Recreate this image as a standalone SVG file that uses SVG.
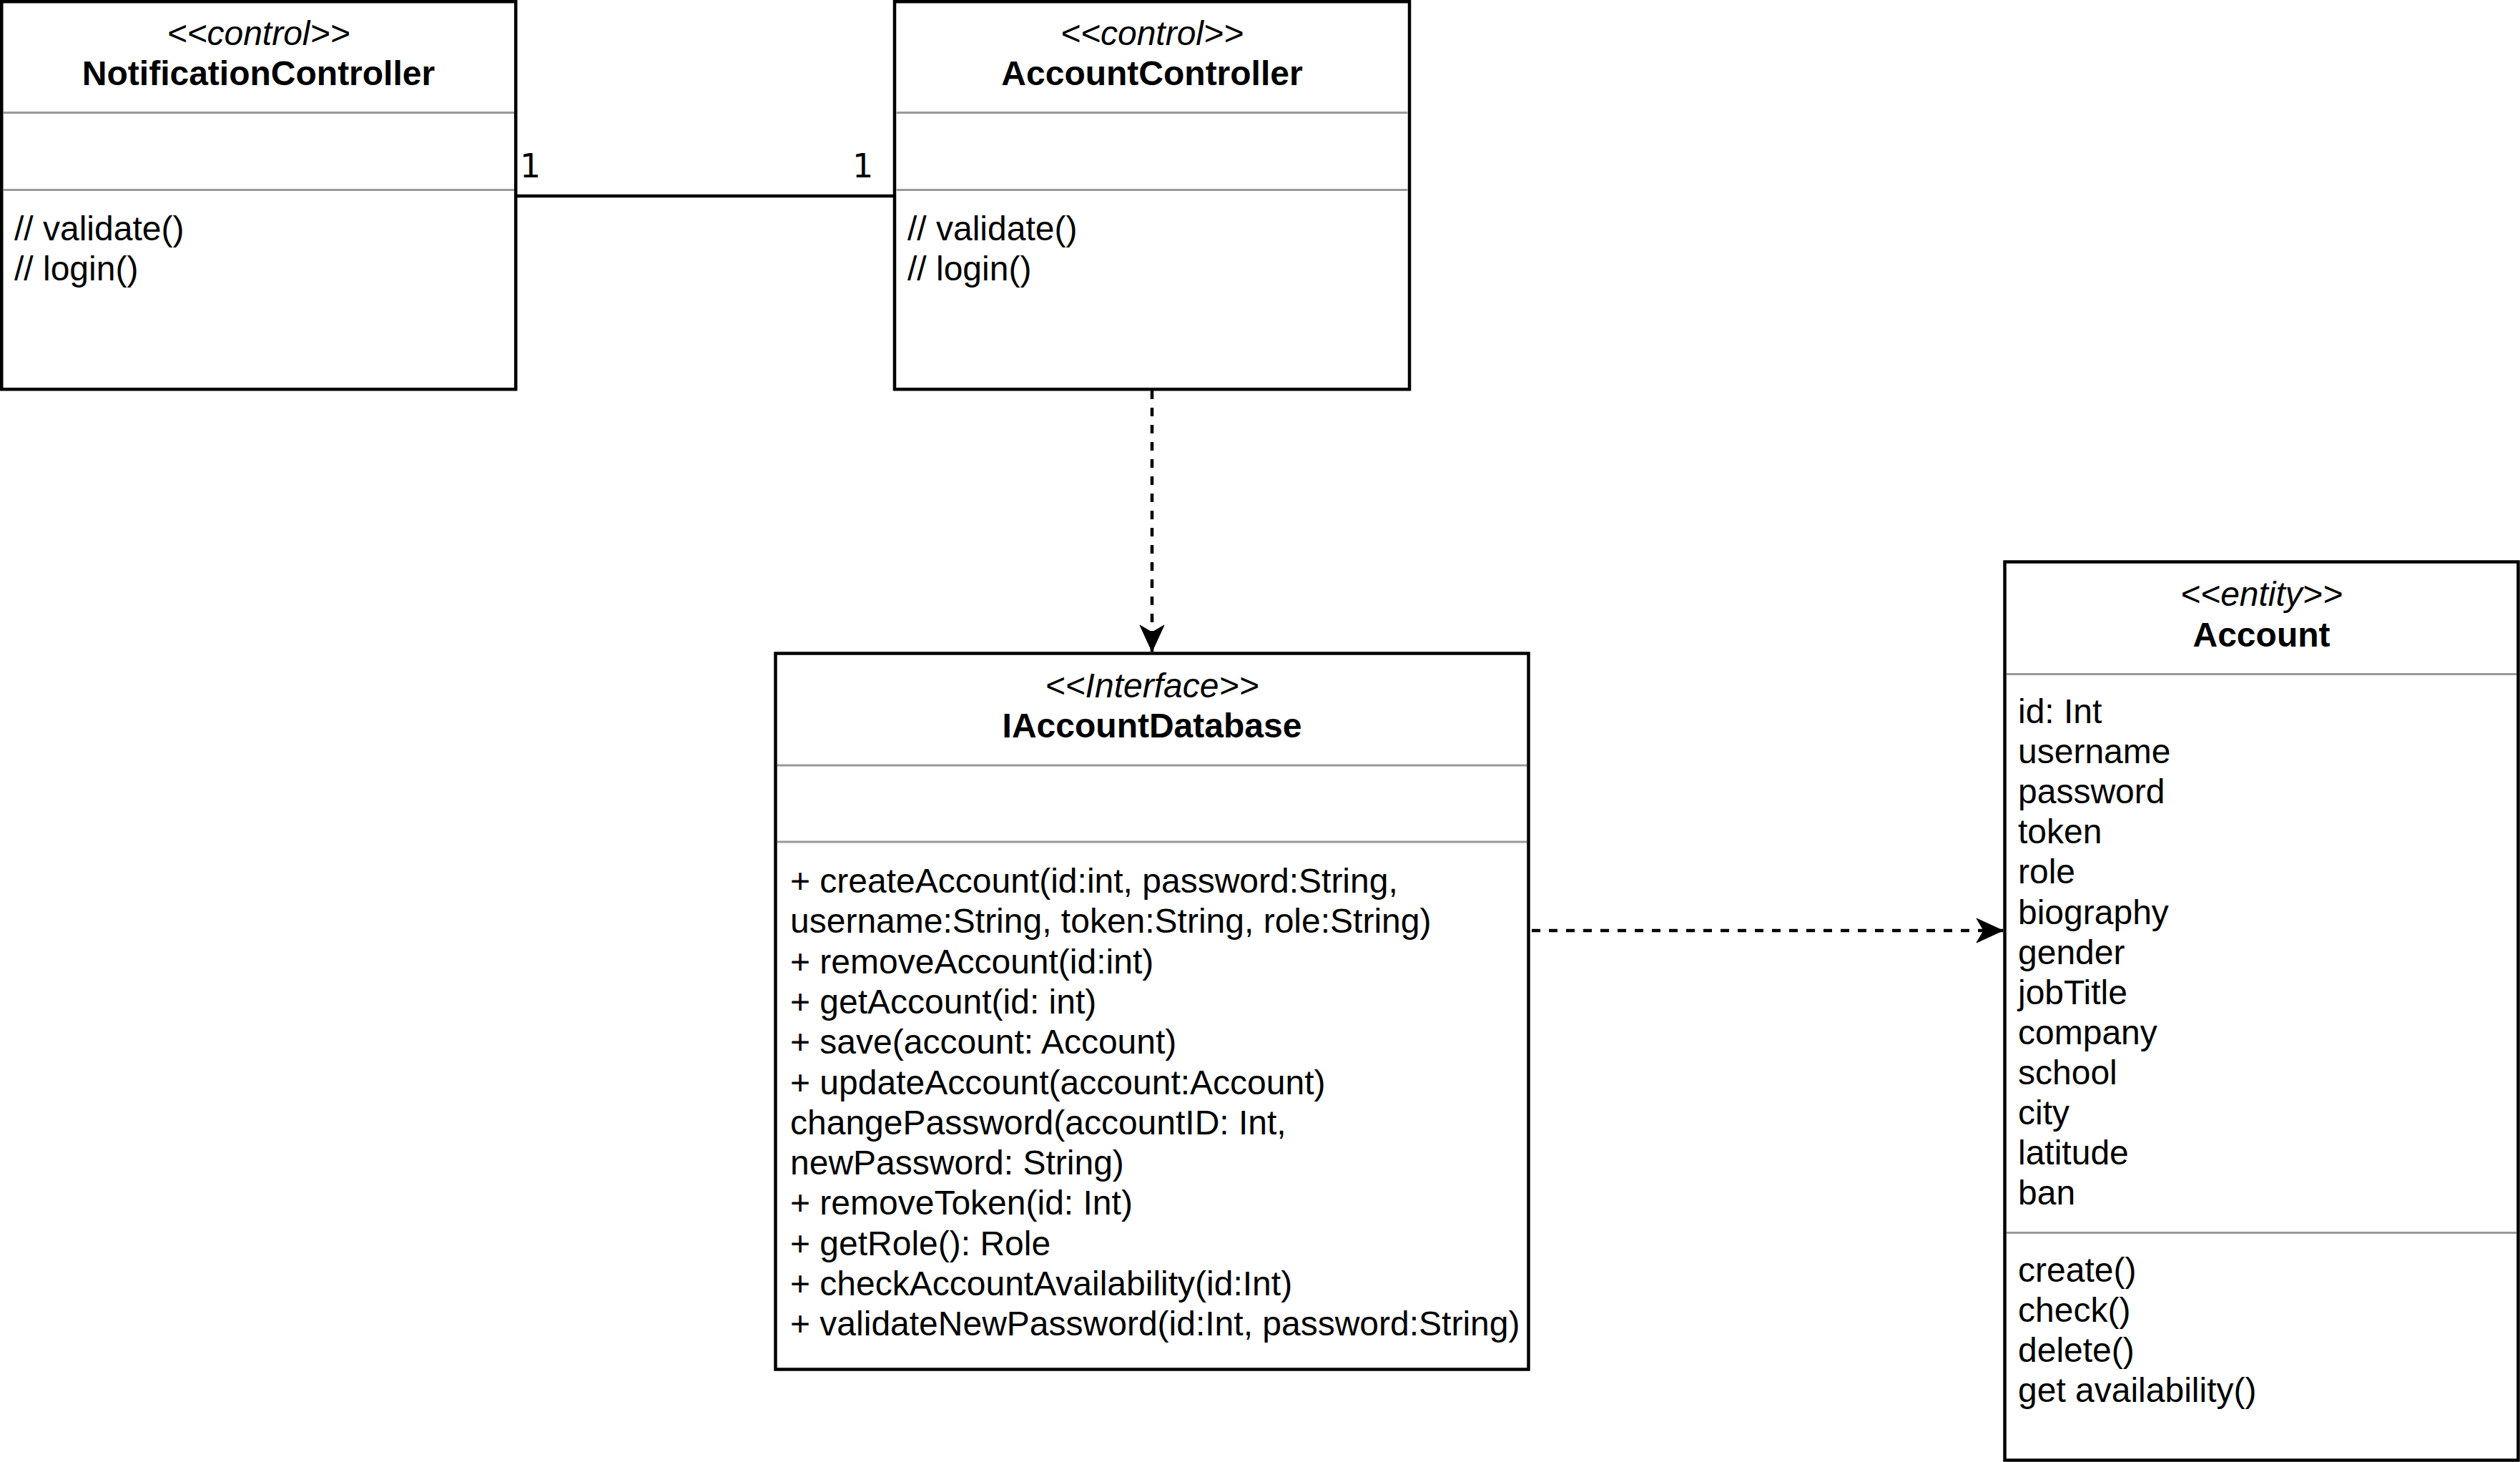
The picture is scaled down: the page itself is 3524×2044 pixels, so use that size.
<svg xmlns="http://www.w3.org/2000/svg" width="3524" height="2044" viewBox="0 0 3524 2044">
<defs>
<style>
.box{fill:#ffffff;stroke:#000000;stroke-width:4.5}
.sep{stroke:#999999;stroke-width:2.8;fill:none}
text{font-family:"Liberation Sans",Arial,Helvetica,sans-serif;font-size:48px;fill:#000000}
.st{font-style:italic;text-anchor:middle}
.ttl{font-weight:bold;text-anchor:middle}
.mult{font-family:"DejaVu Sans",sans-serif;font-size:46px}
.edge{stroke:#000000;stroke-width:4.5;fill:none}
.dash{stroke-dasharray:12 12}
</style>
<marker id="arr" markerUnits="userSpaceOnUse" markerWidth="40" markerHeight="40" viewBox="-38 -18 40 36" refX="0" refY="0" orient="auto">
<path d="M0,0 L-37,-17 L-27,0 L-37,17 Z" fill="#000000" stroke="#000000" stroke-width="1"/>
</marker>
</defs>
<rect width="3524" height="2044" fill="#ffffff"/>

<g id="connectors">
<line class="edge" x1="721" y1="274" x2="1251" y2="274"/>
<text class="mult" x="727" y="248">1</text>
<text class="mult" x="1192" y="248">1</text>
<line class="edge dash" x1="1611" y1="546" x2="1611" y2="911" marker-end="url(#arr)"/>
<line class="edge dash" x1="2142" y1="1301" x2="2801" y2="1301" marker-end="url(#arr)"/>
</g>

<g id="NotificationController">
<rect class="box" x="2.25" y="2.25" width="719" height="542"/>
<line class="sep" x1="5" y1="157.5" x2="719" y2="157.5"/>
<line class="sep" x1="5" y1="265.5" x2="719" y2="265.5"/>
<text class="st" x="361.5" y="63">&lt;&lt;control&gt;&gt;</text>
<text class="ttl" x="361.5" y="119">NotificationController</text>
<text x="20" y="336">// validate()</text>
<text x="20" y="392">// login()</text>
</g>

<g id="AccountController">
<rect class="box" x="1251" y="2.25" width="720" height="542"/>
<line class="sep" x1="1253.5" y1="157.5" x2="1968.5" y2="157.5"/>
<line class="sep" x1="1253.5" y1="265.5" x2="1968.5" y2="265.5"/>
<text class="st" x="1611" y="63">&lt;&lt;control&gt;&gt;</text>
<text class="ttl" x="1611" y="119">AccountController</text>
<text x="1269" y="336">// validate()</text>
<text x="1269" y="392">// login()</text>
</g>

<g id="IAccountDatabase">
<rect class="box" x="1084.5" y="913.5" width="1053" height="1001"/>
<line class="sep" x1="1087" y1="1070" x2="2135" y2="1070"/>
<line class="sep" x1="1087" y1="1177" x2="2135" y2="1177"/>
<text class="st" x="1611" y="975">&lt;&lt;Interface&gt;&gt;</text>
<text class="ttl" x="1611" y="1031">IAccountDatabase</text>
<text x="1105" y="1248">+ createAccount(id:int, password:String,</text>
<text x="1105" y="1304.3">username:String, token:String, role:String)</text>
<text x="1105" y="1360.6">+ removeAccount(id:int)</text>
<text x="1105" y="1416.9">+ getAccount(id: int)</text>
<text x="1105" y="1473.2">+ save(account: Account)</text>
<text x="1105" y="1529.5">+ updateAccount(account:Account)</text>
<text x="1105" y="1585.8">changePassword(accountID: Int,</text>
<text x="1105" y="1642.1">newPassword: String)</text>
<text x="1105" y="1698.4">+ removeToken(id: Int)</text>
<text x="1105" y="1754.7">+ getRole(): Role</text>
<text x="1105" y="1811">+ checkAccountAvailability(id:Int)</text>
<text x="1105" y="1867.3">+ validateNewPassword(id:Int, password:String)</text>
</g>

<g id="Account">
<rect class="box" x="2803.5" y="785.5" width="718" height="1256"/>
<line class="sep" x1="2806" y1="942.5" x2="3519" y2="942.5"/>
<line class="sep" x1="2806" y1="1723.5" x2="3519" y2="1723.5"/>
<text class="st" x="3162.5" y="847">&lt;&lt;entity&gt;&gt;</text>
<text class="ttl" x="3162.5" y="904">Account</text>
<text x="2822" y="1011">id: Int</text>
<text x="2822" y="1067.1">username</text>
<text x="2822" y="1123.2">password</text>
<text x="2822" y="1179.3">token</text>
<text x="2822" y="1235.4">role</text>
<text x="2822" y="1291.5">biography</text>
<text x="2822" y="1347.6">gender</text>
<text x="2822" y="1403.7">jobTitle</text>
<text x="2822" y="1459.8">company</text>
<text x="2822" y="1515.9">school</text>
<text x="2822" y="1572">city</text>
<text x="2822" y="1628.1">latitude</text>
<text x="2822" y="1684.2">ban</text>
<text x="2822" y="1792">create()</text>
<text x="2822" y="1848">check()</text>
<text x="2822" y="1904">delete()</text>
<text x="2822" y="1960">get availability()</text>
</g>
</svg>
